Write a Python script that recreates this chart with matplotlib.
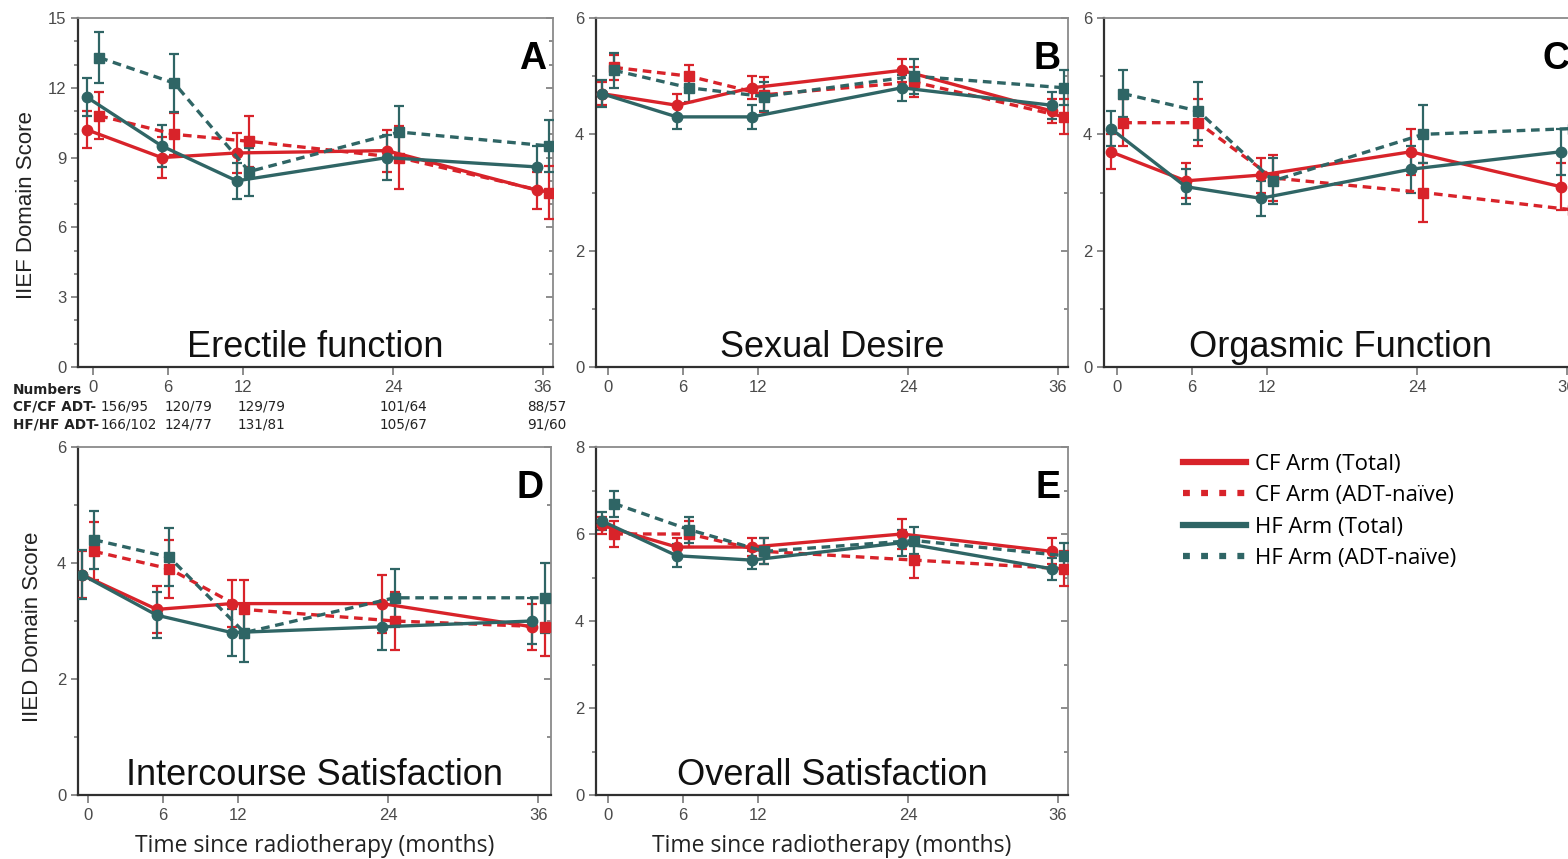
import matplotlib
matplotlib.use("Agg")
import matplotlib.pyplot as plt
from matplotlib.lines import Line2D
from matplotlib.ticker import MultipleLocator

# Follow-up time points (months since radiotherapy)
months = [0, 6, 12, 24, 36]

# A: Erectile function (IIEF)
ef_cf_total = [10.2, 9.0, 9.2, 9.3, 7.6]
ef_cf_total_err = [0.8, 0.87, 0.85, 0.9, 0.8]
ef_cf_naive = [10.8, 10.0, 9.7, 9.0, 7.5]
ef_cf_naive_err = [1.0, 0.9, 1.1, 1.35, 1.15]
ef_hf_total = [11.6, 9.5, 8.0, 9.0, 8.6]
ef_hf_total_err = [0.82, 0.92, 0.78, 0.95, 0.9]
ef_hf_naive = [13.3, 12.2, 8.4, 10.1, 9.5]
ef_hf_naive_err = [1.1, 1.25, 1.03, 1.1, 1.1]

# B: Sexual desire (IIEF)
sd_cf_total = [4.7, 4.5, 4.8, 5.1, 4.4]
sd_cf_total_err = [0.2, 0.19, 0.2, 0.2, 0.2]
sd_cf_naive = [5.15, 5.0, 4.68, 4.9, 4.3]
sd_cf_naive_err = [0.22, 0.2, 0.3, 0.25, 0.3]
sd_hf_total = [4.7, 4.3, 4.3, 4.8, 4.5]
sd_hf_total_err = [0.23, 0.2, 0.2, 0.22, 0.23]
sd_hf_naive = [5.1, 4.8, 4.65, 5.0, 4.8]
sd_hf_naive_err = [0.3, 0.25, 0.25, 0.3, 0.3]

# C: Orgasmic function (IIEF)
of_cf_total = [3.7, 3.2, 3.3, 3.7, 3.1]
of_cf_total_err = [0.3, 0.3, 0.3, 0.4, 0.4]
of_cf_naive = [4.2, 4.2, 3.25, 3.0, 2.7]
of_cf_naive_err = [0.4, 0.4, 0.4, 0.5, 0.4]
of_hf_total = [4.1, 3.1, 2.9, 3.4, 3.7]
of_hf_total_err = [0.3, 0.3, 0.3, 0.4, 0.4]
of_hf_naive = [4.7, 4.4, 3.2, 4.0, 4.1]
of_hf_naive_err = [0.4, 0.5, 0.4, 0.5, 0.4]

# D: Intercourse satisfaction (IIEF)
is_cf_total = [3.8, 3.2, 3.3, 3.3, 2.9]
is_cf_total_err = [0.4, 0.4, 0.4, 0.5, 0.4]
is_cf_naive = [4.2, 3.9, 3.2, 3.0, 2.9]
is_cf_naive_err = [0.5, 0.5, 0.5, 0.5, 0.5]
is_hf_total = [3.8, 3.1, 2.8, 2.9, 3.0]
is_hf_total_err = [0.42, 0.4, 0.4, 0.4, 0.4]
is_hf_naive = [4.4, 4.1, 2.8, 3.4, 3.4]
is_hf_naive_err = [0.5, 0.5, 0.5, 0.5, 0.6]

# E: Overall satisfaction (IIEF)
os_cf_total = [6.2, 5.7, 5.7, 6.0, 5.6]
os_cf_total_err = [0.2, 0.2, 0.2, 0.35, 0.3]
os_cf_naive = [6.0, 6.0, 5.6, 5.4, 5.2]
os_cf_naive_err = [0.3, 0.3, 0.3, 0.4, 0.4]
os_hf_total = [6.3, 5.5, 5.4, 5.8, 5.2]
os_hf_total_err = [0.2, 0.27, 0.2, 0.3, 0.25]
os_hf_naive = [6.7, 6.1, 5.6, 5.85, 5.5]
os_hf_naive_err = [0.3, 0.3, 0.3, 0.3, 0.3]

series_labels = ["CF Arm (Total)", "CF Arm (ADT-naïve)", "HF Arm (Total)", "HF Arm (ADT-naïve)"]

# Patient numbers per time point (total / ADT-naive)
numbers_cf = ["156/95", "120/79", "129/79", "101/64", "88/57"]
numbers_hf = ["166/102", "124/77", "131/81", "105/67", "91/60"]

RED = "#d8232a"
TEAL = "#2f6565"
SPINE = "#6e6e6e"
TICKCOL = "#4a4a4a"

W, H = 1568, 859
fig = plt.figure(figsize=(W / 100, H / 100), dpi=100)
fig.patch.set_facecolor("white")


def rect(left, top, right, bottom):
    return [left / W, 1 - bottom / H, (right - left) / W, (bottom - top) / H]


panels = [
    dict(rect=rect(78, 18, 553, 367), xlim=(-1.2, 36.8), ymax=15, major=3, minor=1,
         title="Erectile function", letter="A",
         data=[(ef_cf_total, ef_cf_total_err), (ef_cf_naive, ef_cf_naive_err),
               (ef_hf_total, ef_hf_total_err), (ef_hf_naive, ef_hf_naive_err)]),
    dict(rect=rect(596, 18, 1068, 367), xlim=(-0.96, 36.8), ymax=6, major=2, minor=1,
         title="Sexual Desire", letter="B",
         data=[(sd_cf_total, sd_cf_total_err), (sd_cf_naive, sd_cf_naive_err),
               (sd_hf_total, sd_hf_total_err), (sd_hf_naive, sd_hf_naive_err)]),
    dict(rect=rect(1104, 18, 1577, 367), xlim=(-1.04, 36.8), ymax=6, major=2, minor=1,
         title="Orgasmic Function", letter="C",
         data=[(of_cf_total, of_cf_total_err), (of_cf_naive, of_cf_naive_err),
               (of_hf_total, of_hf_total_err), (of_hf_naive, of_hf_naive_err)]),
    dict(rect=rect(78, 447, 551, 795), xlim=(-0.8, 37.0), ymax=6, major=2, minor=1,
         title="Intercourse Satisfaction", letter="D",
         data=[(is_cf_total, is_cf_total_err), (is_cf_naive, is_cf_naive_err),
               (is_hf_total, is_hf_total_err), (is_hf_naive, is_hf_naive_err)]),
    dict(rect=rect(596, 447, 1068, 795), xlim=(-0.96, 36.8), ymax=8, major=2, minor=1,
         title="Overall Satisfaction", letter="E",
         data=[(os_cf_total, os_cf_total_err), (os_cf_naive, os_cf_naive_err),
               (os_hf_total, os_hf_total_err), (os_hf_naive, os_hf_naive_err)]),
]

styles = [
    dict(color=RED, ls="-", marker="o", ms=7.5, shift=-0.5),
    dict(color=RED, ls=(0, (2.6, 1.7)), marker="s", ms=7, shift=0.5),
    dict(color=TEAL, ls="-", marker="o", ms=7.5, shift=-0.5),
    dict(color=TEAL, ls=(0, (2.6, 1.7)), marker="s", ms=7, shift=0.5),
]

axes = []
for p in panels:
    ax = fig.add_axes(p["rect"])
    axes.append(ax)
    for (vals, errs), st in zip(p["data"], styles):
        xs = [m + st["shift"] for m in months]
        ax.errorbar(xs, vals, yerr=errs, color=st["color"], ls=st["ls"], lw=2.4,
                    marker=st["marker"], ms=st["ms"], mec=st["color"], mfc=st["color"],
                    elinewidth=1.6, capsize=3.5, capthick=1.6, zorder=3)
    ax.set_xlim(*p["xlim"])
    ax.set_ylim(0, p["ymax"])
    ax.set_xticks(months)
    ax.yaxis.set_major_locator(MultipleLocator(p["major"]))
    ax.yaxis.set_minor_locator(MultipleLocator(p["minor"]))
    ax.tick_params(axis="y", which="both", direction="out", left=True, right=True,
                   color=SPINE, labelcolor=TICKCOL, labelsize=12, length=5, width=1.1)
    ax.tick_params(axis="y", which="minor", length=3)
    # right-hand ticks point into the plot area
    for t in ax.yaxis.get_ticklines(minor=False)[1::2] + ax.yaxis.get_ticklines(minor=True)[1::2]:
        t.set_marker(matplotlib.lines.TICKLEFT)
    ax.tick_params(axis="x", which="both", direction="out", color=SPINE,
                   labelcolor=TICKCOL, labelsize=12, length=6, width=1.1)
    for lab in ax.get_xticklabels() + ax.get_yticklabels():
        lab.set_fontfamily("Liberation Sans")
    for side, sp in ax.spines.items():
        sp.set_color("#303030" if side in ("left", "bottom") else "#8a8a8a")
        sp.set_linewidth(1.6 if side in ("left", "bottom") else 1.3)
    ax.text(0.5, 0.03, p["title"], transform=ax.transAxes, ha="center", va="baseline",
            fontsize=26, family="Liberation Sans", color="#111111")
    ax.text(0.985, 0.935, p["letter"], transform=ax.transAxes, ha="right", va="top",
            fontsize=27, fontweight="bold", family="Liberation Sans", color="#000000")

# y-axis titles
fig.text(27 / W, 1 - 205 / H, "IIEF Domain Score", rotation=90, ha="center", va="center",
         fontsize=16, family="Liberation Sans", color="#222222")
fig.text(33 / W, 1 - 627 / H, "IIED Domain Score", rotation=90, ha="center", va="center",
         fontsize=16, family="Liberation Sans", color="#222222")

# x-axis titles on the bottom row
for ax in axes[3:]:
    ax.set_xlabel("Time since radiotherapy (months)", fontsize=16.5, family="Open Sans",
                  color="#222222", labelpad=8)

# Patient numbers below panel A
tfont = dict(fontsize=9.8, family="DejaVu Sans", color="#222222", va="center")
fig.text(13 / W, 1 - 390 / H, "Numbers", fontweight="bold", **tfont)
fig.text(13 / W, 1 - 407 / H, "CF/CF ADT-", fontweight="bold", **tfont)
fig.text(13 / W, 1 - 424 / H, "HF/HF ADT-", fontweight="bold", **tfont)
col_x = [101, 165, 238, 380, 527]
for x, a, b in zip(col_x, numbers_cf, numbers_hf):
    fig.text(x / W, 1 - 407 / H, a, **tfont)
    fig.text(x / W, 1 - 424 / H, b, **tfont)

# Legend
handles = [
    Line2D([], [], color=RED, lw=4.5, ls="-"),
    Line2D([], [], color=RED, lw=4.5, ls=(0, (1.1, 1.8))),
    Line2D([], [], color=TEAL, lw=4.5, ls="-"),
    Line2D([], [], color=TEAL, lw=4.5, ls=(0, (1.1, 1.8))),
]
fig.legend(handles, series_labels, loc="upper left", bbox_to_anchor=(1165 / W, 1 - 436 / H),
           frameon=False, handlelength=2.85, handletextpad=0.42, labelspacing=0.47,
           borderpad=0.3, prop=dict(family="Open Sans", size=16))

fig.savefig("out.png", dpi=100, facecolor="white")
